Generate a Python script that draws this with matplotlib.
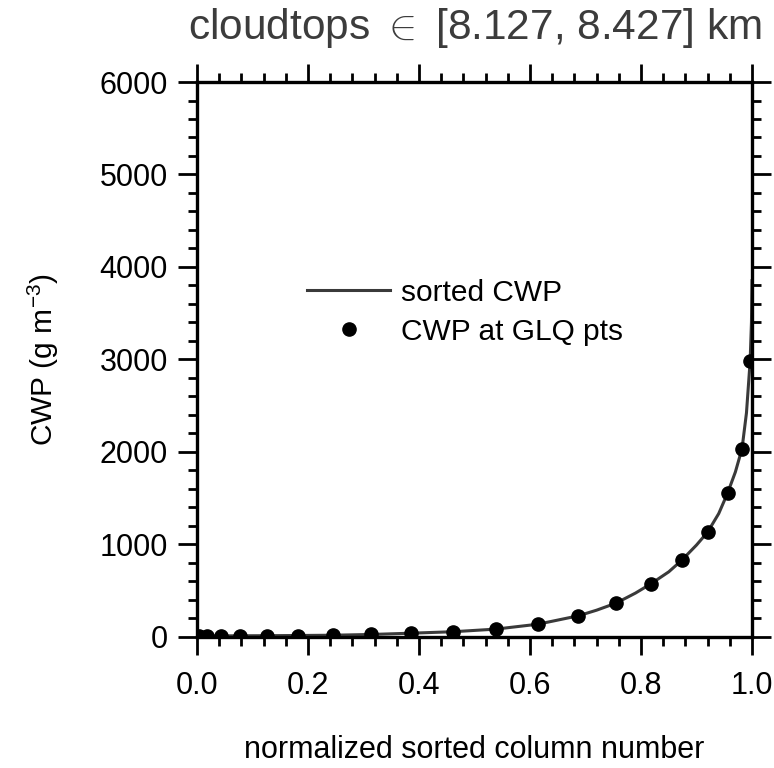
import matplotlib
matplotlib.use("Agg")
import matplotlib.pyplot as plt
from matplotlib.ticker import MultipleLocator, FormatStrFormatter

plt.rcParams["font.family"] = ["Liberation Sans", "DejaVu Sans"]
plt.rcParams["mathtext.fontset"] = "custom"
plt.rcParams["mathtext.rm"] = "Liberation Sans"
plt.rcParams["mathtext.it"] = "Liberation Sans"

# sorted CWP curve
line_x = [0.0, 0.0034, 0.018, 0.044, 0.078, 0.127, 0.182, 0.245, 0.313, 0.386,
          0.462, 0.538, 0.614, 0.687, 0.72, 0.755, 0.79, 0.818, 0.85, 0.873,
          0.90, 0.920, 0.94, 0.956, 0.97, 0.982, 0.99, 0.9966, 0.999, 1.0]
line_y = [3, 5, 6, 7, 8, 9, 11, 14, 22, 36,
          52, 80, 133, 224, 285, 361, 470, 571, 700, 823,
          990, 1130, 1330, 1552, 1780, 2033, 2420, 2978, 3400, 3850]

# CWP at the 20 Gauss-Legendre points
glq_x = [0.0034, 0.018, 0.044, 0.078, 0.127, 0.182, 0.245, 0.313, 0.386, 0.462,
         0.538, 0.614, 0.687, 0.755, 0.818, 0.873, 0.920, 0.956, 0.982, 0.9966]
glq_y = [5, 6, 7, 8, 9, 11, 14, 22, 36, 52,
         80, 133, 224, 361, 571, 823, 1130, 1552, 2033, 2978]

TITLE = r"cloudtops $\in$ [8.127, 8.427] km"
XLABEL = "normalized sorted column number"
YLABEL = "CWP (g m$^{-3}$)"

fig = plt.figure(figsize=(7.74, 7.68), dpi=100)
ax = fig.add_axes([0.2545, 0.1712, 0.7171, 0.7220])

ax.plot(line_x, line_y, "-", color="#3a3a3a", lw=2.2, label="sorted CWP", zorder=2)
ax.plot(glq_x, glq_y, "o", color="black", ms=9.5, ls="none",
        label="CWP at GLQ pts", zorder=3)

ax.set_xlim(0, 1)
ax.set_ylim(0, 6000)
ax.xaxis.set_major_locator(MultipleLocator(0.2))
ax.xaxis.set_minor_locator(MultipleLocator(0.04))
ax.xaxis.set_major_formatter(FormatStrFormatter("%.1f"))
ax.yaxis.set_major_locator(MultipleLocator(1000))
ax.yaxis.set_minor_locator(MultipleLocator(200))

for s in ax.spines.values():
    s.set_linewidth(2.4)
ax.tick_params(which="both", direction="out", top=True, right=True,
               labeltop=False, labelright=False, width=2.0, labelsize=22)
ax.tick_params(axis="x", which="major", length=13, pad=12)
ax.tick_params(axis="y", which="major", length=14, pad=7)
ax.tick_params(which="minor", length=6.5)

ax.set_title(TITLE, fontsize=30.5, color="#3c3c3c", pad=31)
ax.set_xlabel(XLABEL, fontsize=22, labelpad=24)
ax.set_ylabel(YLABEL, fontsize=21.5, labelpad=28)

ax.legend(loc="upper left", bbox_to_anchor=(0.198, 0.645), frameon=False,
          fontsize=21.5, handlelength=2.8, handletextpad=0.35,
          labelspacing=0.36, borderpad=0, borderaxespad=0, numpoints=1)

fig.savefig("out.png", dpi=100)
